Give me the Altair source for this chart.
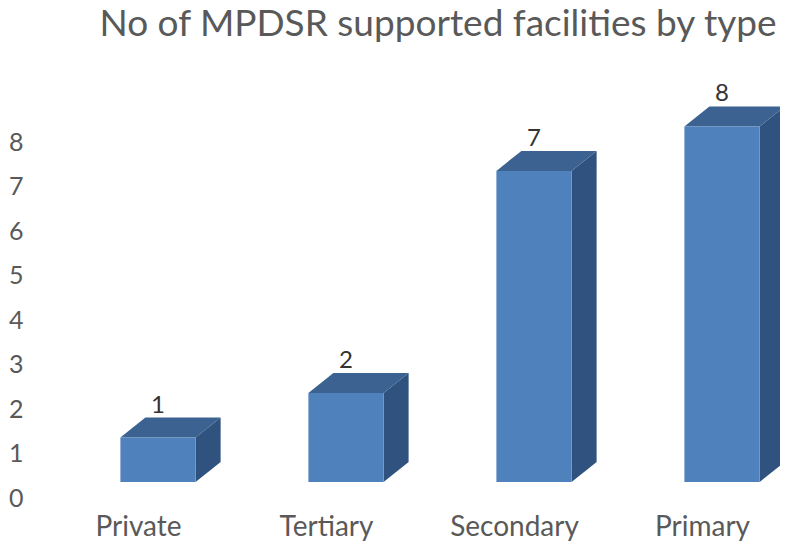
import json
import altair as alt
import pandas as pd

categories = ["Private", "Tertiary", "Secondary", "Primary"]
values = [1, 2, 7, 8]
y_ticks = [0, 1, 2, 3, 4, 5, 6, 7, 8]
title_text = "No of MPDSR supported facilities by type"

# geometry of the pseudo-3D boxes (in data units)
HW = 0.2     # half width of front face
DX = 0.133   # depth offset along x
DY = 0.45    # depth offset along y

front_rows, side_rows, top_rows = [], [], []
for i, (c, v) in enumerate(zip(categories, values)):
    L, R = i - HW, i + HW
    front_rows.append({"cat": c, "x": L, "x2": R, "y": 0, "y2": v, "cx": i, "v": v})
    side_rows += [
        {"cat": c, "x": R, "lo": 0, "hi": v},
        {"cat": c, "x": R + DX, "lo": DY, "hi": v + DY},
    ]
    top_rows += [
        {"cat": c, "x": L, "lo": v, "hi": v},
        {"cat": c, "x": L + DX, "lo": v, "hi": v + DY},
        {"cat": c, "x": R, "lo": v, "hi": v + DY},
        {"cat": c, "x": R + DX, "lo": v + DY, "hi": v + DY},
    ]

front = pd.DataFrame(front_rows)
side = pd.DataFrame(side_rows)
top = pd.DataFrame(top_rows)

xs = alt.Scale(domain=[-0.5, 3.25], nice=False, zero=False)
ys = alt.Scale(domain=[0, 9], nice=False)

FRONT = "#4f81bd"
TOP = "#3b6291"
SIDE = "#30527e"
GREY = "#595959"

label_expr = json.dumps(categories) + "[datum.value]"

x_axis = alt.Axis(
    values=list(range(len(categories))),
    labelExpr=label_expr,
    title=None,
    domain=False,
    ticks=False,
    tickSize=0,
    grid=False,
    labelFont="Lato",
    labelFontSize=28,
    labelColor=GREY,
    labelBaseline="alphabetic",
    labelPadding=53,
    labelOffset=-20,
)
y_axis = alt.Axis(
    values=y_ticks,
    title=None,
    domain=False,
    ticks=False,
    tickSize=0,
    grid=False,
    labelFont="Lato",
    labelFontSize=25,
    labelColor=GREY,
    labelPadding=41,
    labelOffset=16,
)

side_layer = alt.Chart(side).mark_area(color=SIDE, interpolate="linear").encode(
    x=alt.X("x:Q", scale=xs, axis=x_axis),
    y=alt.Y("lo:Q", scale=ys, stack=None, axis=y_axis),
    y2="hi:Q",
    detail="cat:N",
)

top_layer = alt.Chart(top).mark_area(color=TOP, interpolate="linear").encode(
    x=alt.X("x:Q", scale=xs, axis=x_axis),
    y=alt.Y("lo:Q", scale=ys, stack=None, axis=y_axis),
    y2="hi:Q",
    detail="cat:N",
)

front_layer = alt.Chart(front).mark_rect(color=FRONT).encode(
    x=alt.X("x:Q", scale=xs, axis=x_axis),
    x2="x2:Q",
    y=alt.Y("y:Q", scale=ys, axis=y_axis),
    y2="y2:Q",
)

text_layer = alt.Chart(front).mark_text(
    font="Lato", fontSize=24, color="#333333", baseline="alphabetic", dy=-25
).encode(
    x=alt.X("cx:Q", scale=xs, axis=x_axis),
    y=alt.Y("v:Q", scale=ys, axis=y_axis),
    text="v:Q",
)

title_layer = alt.Chart(pd.DataFrame({"t": [title_text]})).mark_text(
    font="Lato", fontSize=37, color=GREY, baseline="alphabetic", align="center"
).encode(
    x=alt.value(374),
    y=alt.value(-46),
    text="t:N",
)

chart = (
    alt.layer(side_layer, top_layer, front_layer, text_layer, title_layer)
    .properties(
        width=705,
        height=400,
        autosize=alt.AutoSizeParams(type="none"),
        padding={"left": 56, "top": 74, "right": 11, "bottom": 62},
    )
    .configure_view(stroke=None)
)

chart.save("out.html", embed_options={"renderer": "svg", "actions": False})
